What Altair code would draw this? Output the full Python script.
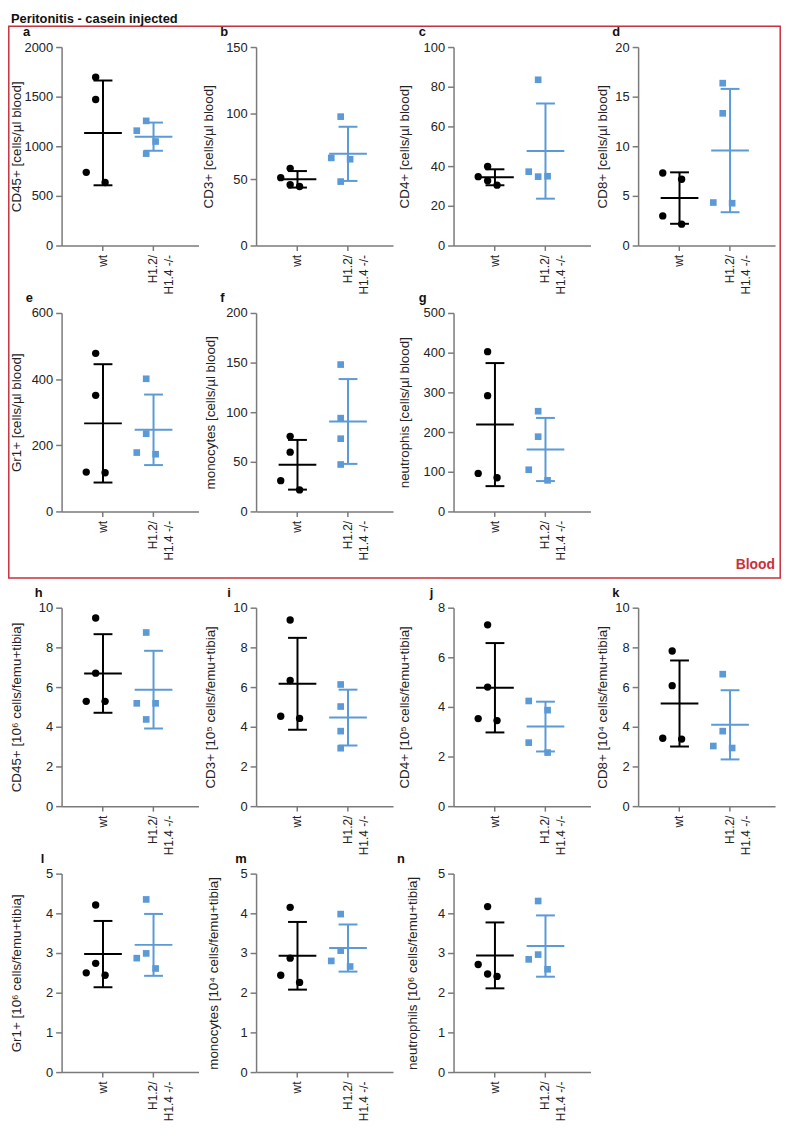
import altair as alt
import pandas as pd

WT = "wt"
KO = "H1.2/H1.4 -/-"
GROUPS = [WT, KO]
BLACK = "#000000"
BLUE = "#5b9ad6"
RED = "#c8303c"
FONT = "Liberation Sans"

# ---- values (wt, H1.2/H1.4 -/-), slot = horizontal spread (-1 left, 0 centre, 1 right)
A_WT = [1696, 1471, 737, 635];        A_WT_SLOT = [0, 0, -1, 1]
A_KO = [1256, 1157, 1048, 926];       A_KO_SLOT = [0, -1, 1, 0]
B_WT = [51.3, 58.3, 45.9, 44.6];      B_WT_SLOT = [-1, 0, 0, 1]
B_KO = [97.4, 66.2, 65.2, 48.3];      B_KO_SLOT = [0, -1, 1, 0]
C_WT = [34.7, 39.8, 32.6, 30.4];      C_WT_SLOT = [-1, 0, 0, 1]
C_KO = [83.5, 37.2, 34.7, 34.9];      C_KO_SLOT = [0, -1, 0, 1]
D_WT = [7.31, 6.68, 2.98, 2.15];      D_WT_SLOT = [-1, 1, -1, 1]
D_KO = [16.36, 13.32, 4.33, 4.26];    D_KO_SLOT = [0, 0, -1, 1]
E_WT = [478, 351, 119, 117];          E_WT_SLOT = [0, 0, -1, 1]
E_KO = [401, 235, 178, 173];          E_KO_SLOT = [0, 0, -1, 1]
F_WT = [75.7, 59.7, 31.0, 21.7];      F_WT_SLOT = [0, 0, -1, 1]
F_KO = [148, 94, 73.3, 47.3];         F_KO_SLOT = [0, 0, 0, 0]
G_WT = [402.5, 291.7, 95.8, 85.0];    G_WT_SLOT = [0, 0, -1, 1]
G_KO = [252.5, 188.3, 105, 78.3];     G_KO_SLOT = [0, 0, -1, 1]
H_WT = [9.48, 6.70, 5.28, 5.28];      H_WT_SLOT = [0, 0, -1, 1]
H_KO = [8.75, 5.18, 5.18, 4.37];      H_KO_SLOT = [0, -1, 1, 0]
I_WT = [9.38, 6.33, 4.53, 4.42];      I_WT_SLOT = [0, 0, -1, 1]
I_KO = [6.13, 5.02, 3.78, 2.92];      I_KO_SLOT = [0, 0, 0, 0]
J_WT = [7.31, 4.80, 3.53, 3.45];      J_WT_SLOT = [0, 0, -1, 1]
J_KO = [4.24, 3.87, 2.56, 2.16];      J_KO_SLOT = [-1, 1, -1, 1]
K_WT = [7.82, 6.07, 3.42, 3.38];      K_WT_SLOT = [0, 0, -1, 1]
K_KO = [6.65, 3.78, 3.03, 2.93];      K_KO_SLOT = [0, 0, -1, 1]
L_WT = [4.21, 2.74, 2.50, 2.44];      L_WT_SLOT = [0, 0, -1, 1]
L_KO = [4.35, 2.99, 2.87, 2.61];      L_KO_SLOT = [0, 0, -1, 1]
M_WT = [4.15, 2.87, 2.44, 2.26];      M_WT_SLOT = [0, 0, -1, 1]
M_KO = [3.98, 3.06, 2.80, 2.66];      M_KO_SLOT = [0, 0, -1, 1]
N_WT = [4.17, 2.71, 2.47, 2.41];      N_WT_SLOT = [0, -1, 0, 1]
N_KO = [4.31, 2.96, 2.84, 2.59];      N_KO_SLOT = [0, 0, -1, 1]

# y-axis titles and tick values
TITLES = {
    "a": "CD45+ [cells/µl blood]",
    "b": "CD3+ [cells/µl blood]",
    "c": "CD4+ [cells/µl blood]",
    "d": "CD8+ [cells/µl blood]",
    "e": "Gr1+ [cells/µl blood]",
    "f": "monocytes [cells/µl blood]",
    "g": "neutrophis [cells/µl blood]",
    "h": "CD45+ [10⁶ cells/femu+tibia]",
    "i": "CD3+ [10⁵ cells/femu+tibia]",
    "j": "CD4+ [10⁵ cells/femu+tibia]",
    "k": "CD8+ [10⁴ cells/femu+tibia]",
    "l": "Gr1+ [10⁶ cells/femu+tibia]",
    "m": "monocytes [10⁴ cells/femu+tibia]",
    "n": "neutrophils [10⁶ cells/femu+tibia]",
}
TICKS = {
    "a": [0, 500, 1000, 1500, 2000],
    "b": [0, 50, 100, 150],
    "c": [0, 20, 40, 60, 80, 100],
    "d": [0, 5, 10, 15, 20],
    "e": [0, 200, 400, 600],
    "f": [0, 50, 100, 150, 200],
    "g": [0, 100, 200, 300, 400, 500],
    "h": [0, 2, 4, 6, 8, 10],
    "i": [0, 2, 4, 6, 8, 10],
    "j": [0, 2, 4, 6, 8],
    "k": [0, 2, 4, 6, 8, 10],
    "l": [0, 1, 2, 3, 4, 5],
    "m": [0, 1, 2, 3, 4, 5],
    "n": [0, 1, 2, 3, 4, 5],
}
DATA = {
    "a": (A_WT, A_WT_SLOT, A_KO, A_KO_SLOT),
    "b": (B_WT, B_WT_SLOT, B_KO, B_KO_SLOT),
    "c": (C_WT, C_WT_SLOT, C_KO, C_KO_SLOT),
    "d": (D_WT, D_WT_SLOT, D_KO, D_KO_SLOT),
    "e": (E_WT, E_WT_SLOT, E_KO, E_KO_SLOT),
    "f": (F_WT, F_WT_SLOT, F_KO, F_KO_SLOT),
    "g": (G_WT, G_WT_SLOT, G_KO, G_KO_SLOT),
    "h": (H_WT, H_WT_SLOT, H_KO, H_KO_SLOT),
    "i": (I_WT, I_WT_SLOT, I_KO, I_KO_SLOT),
    "j": (J_WT, J_WT_SLOT, J_KO, J_KO_SLOT),
    "k": (K_WT, K_WT_SLOT, K_KO, K_KO_SLOT),
    "l": (L_WT, L_WT_SLOT, L_KO, L_KO_SLOT),
    "m": (M_WT, M_WT_SLOT, M_KO, M_KO_SLOT),
    "n": (N_WT, N_WT_SLOT, N_KO, N_KO_SLOT),
}

# layout styling (pixels)
TITLE_X = {"a": -45.5, "b": -48, "c": -49, "d": -36, "e": -45.5, "f": -46, "g": -49,
           "h": -45.5, "i": -46, "j": -49, "k": -36, "l": -45.5, "m": -43, "n": -41}
LETTER_DX = {"a": -39, "b": -36, "c": -35, "d": -26, "e": -36, "f": -36, "g": -35,
             "h": -27, "i": -29, "j": -24, "k": -26, "l": -21, "m": -21, "n": -57}
PW, PH = 138, 200

ONE = pd.DataFrame({"k": [0]})


def panel(key, extra=None):
    wt, wt_s, ko, ko_s = DATA[key]
    df = pd.DataFrame({
        "group": [WT] * len(wt) + [KO] * len(ko),
        "value": wt + ko,
        "slot": wt_s + ko_s,
    })
    ticks = TICKS[key]
    x = alt.X("group:N",
              scale=alt.Scale(domain=GROUPS, padding=0.71, align=0.475),
              axis=alt.Axis(title=None, labelAngle=270, labelAlign="right",
                            labelBaseline="middle", labelPadding=4, tickSize=5,
                            labelLineHeight=16, labelFontSize=12,
                            labelExpr="datum.value == 'wt' ? 'wt' : ['H1.2/', 'H1.4 -/-']"))
    y_axis = alt.Axis(values=ticks, format="d", title=TITLES[key],
                      titleX=TITLE_X[key], titleY=PH / 2, titleAngle=270,
                      titleAlign="center", titleBaseline="middle",
                      labelPadding=3)
    yscale = alt.Scale(domain=[ticks[0], ticks[-1]], nice=False, zero=True)
    color = alt.Color("group:N", scale=alt.Scale(domain=GROUPS, range=[BLACK, BLUE]), legend=None)

    base = alt.Chart(df)
    stats = base.transform_aggregate(
        m="mean(value)", s="stdev(value)", groupby=["group"]
    ).transform_calculate(lo="datum.m - datum.s", hi="datum.m + datum.s")

    rule = stats.mark_rule(strokeWidth=2).encode(
        x=x, y=alt.Y("lo:Q", scale=yscale, axis=y_axis), y2="hi:Q", color=color)
    mean = stats.mark_tick(size=38, thickness=2, opacity=1).encode(
        x=x, y=alt.Y("m:Q", scale=yscale, axis=y_axis), color=color)
    cap_hi = stats.mark_tick(size=19, thickness=2, opacity=1).encode(
        x=x, y=alt.Y("hi:Q", scale=yscale, axis=y_axis), color=color)
    cap_lo = stats.mark_tick(size=19, thickness=2, opacity=1).encode(
        x=x, y=alt.Y("lo:Q", scale=yscale, axis=y_axis), color=color)
    pts = base.mark_point(filled=True, opacity=1).encode(
        x=x,
        xOffset=alt.XOffset("slot:Q", scale=alt.Scale(domain=[-1, 1], range=[-9.5, 9.5])),
        y=alt.Y("value:Q", scale=yscale, axis=y_axis),
        color=color,
        shape=alt.Shape("group:N", scale=alt.Scale(domain=GROUPS, range=["circle", "square"]), legend=None),
        size=alt.Size("group:N", scale=alt.Scale(domain=GROUPS, range=[55, 45]), legend=None),
    )
    letter = alt.Chart(ONE).mark_text(
        text=key, align="left", baseline="alphabetic", fontSize=13,
        fontWeight="bold", color="#111111", font=FONT
    ).encode(x=alt.value(LETTER_DX[key]), y=alt.value(-11))
    layers = [rule, mean, cap_hi, cap_lo, pts, letter]
    if extra:
        layers += extra
    return alt.layer(*layers).properties(width=PW, height=PH)


def spacer(w, h):
    return alt.Chart(ONE).mark_point(opacity=0).encode(
        x=alt.value(0), y=alt.value(0)).properties(width=w, height=h)


deco = [
    alt.Chart(ONE).mark_rect(fillOpacity=0, stroke=RED, strokeWidth=1.5).encode(
        x=alt.value(-53.2), x2=alt.value(724.2), y=alt.value(-21), y2=alt.value(535)),
    alt.Chart(ONE).mark_text(
        text="Peritonitis - casein injected", align="left", baseline="alphabetic",
        fontSize=13, fontWeight="bold", color="#111111", font=FONT
    ).encode(x=alt.value(-51), y=alt.value(-24)),
    alt.Chart(ONE).mark_text(
        text="Blood", align="right", baseline="alphabetic",
        fontSize=14, fontWeight="bold", color=RED, font=FONT
    ).encode(x=alt.value(719), y=alt.value(526)),
]

cells = [
    panel("a", deco), panel("b"), panel("c"), panel("d"),
    spacer(148, 2), spacer(151, 2), spacer(138, 2), spacer(138, 2),
    panel("e"), panel("f"), panel("g"), spacer(1, 1),
    spacer(1, 31), spacer(1, 31), spacer(1, 31), spacer(1, 31),
    panel("h"), panel("i"), panel("j"), panel("k"),
    spacer(1, 2), spacer(1, 2), spacer(1, 2), spacer(1, 2),
    panel("l"), panel("m"), panel("n"), spacer(1, 1),
]

chart = alt.concat(
    *cells, columns=4, spacing={"row": 33, "column": 48},
    bounds="flush", align="each"
).properties(
    autosize=alt.AutoSizeParams(type="none"),
    padding={"left": 54, "top": 35, "right": 725, "bottom": 1084},
    background="white",
).configure_view(
    stroke="transparent"
).configure_axis(
    grid=False,
    domainColor="#7a7a7a", domainWidth=1.5,
    tickColor="#7a7a7a", tickWidth=1.5, tickSize=6,
    labelColor="#222222", labelFont=FONT, labelFontSize=13,
    titleColor="#222222", titleFont=FONT, titleFontSize=13.5, titleFontWeight="normal",
).configure_text(font=FONT)

chart.save("out.html", embed_options={"renderer": "svg", "actions": False})
